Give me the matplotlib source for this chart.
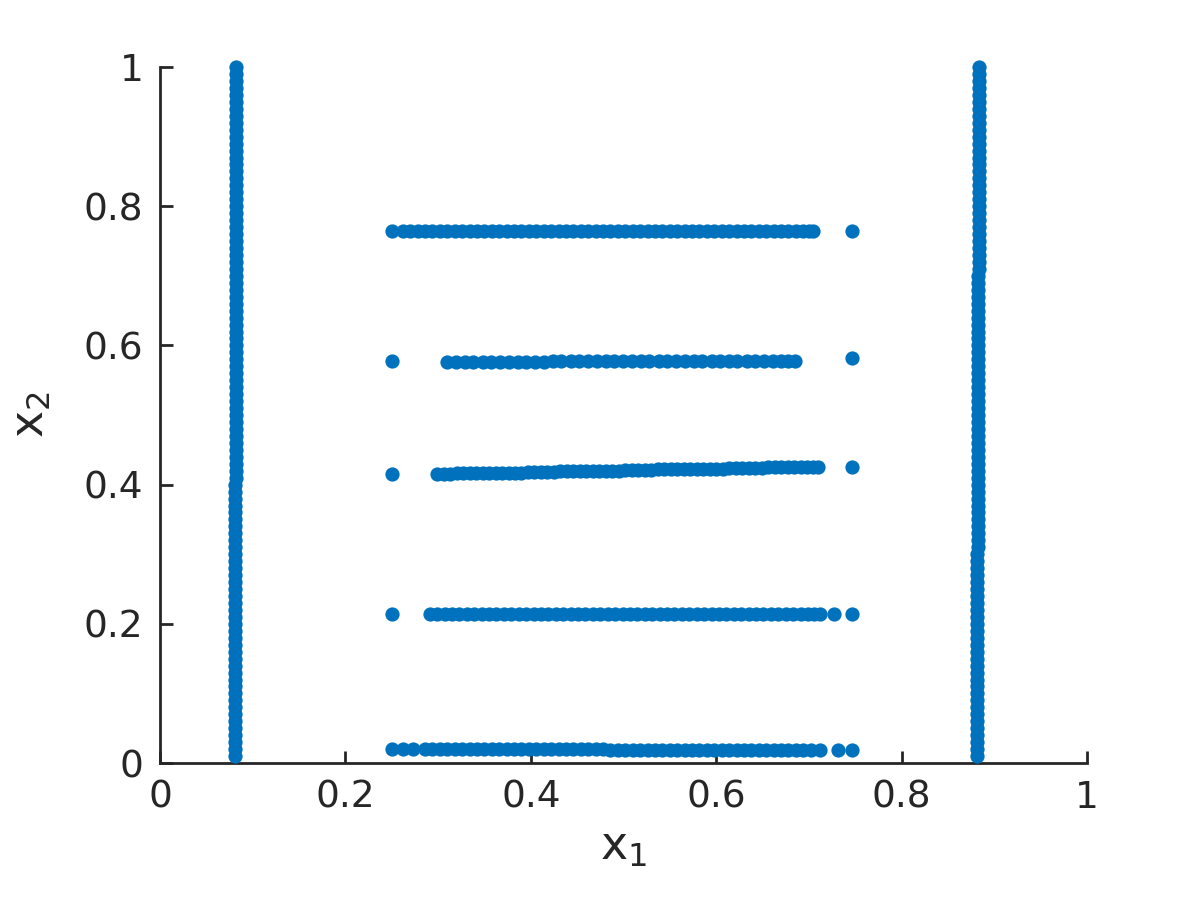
import matplotlib
matplotlib.use("Agg")
import matplotlib.pyplot as plt

# ---- data ----
# left vertical band
left_y = [0.010, 0.020, 0.030, 0.040, 0.050, 0.060, 0.070, 0.080, 0.090, 0.100,
          0.110, 0.120, 0.130, 0.140, 0.150, 0.160, 0.170, 0.180, 0.190, 0.200,
          0.210, 0.220, 0.230, 0.240, 0.250, 0.260, 0.270, 0.280, 0.290, 0.300,
          0.310, 0.320, 0.330, 0.340, 0.350, 0.360, 0.370, 0.380, 0.390, 0.400,
          0.410, 0.420, 0.430, 0.440, 0.450, 0.460, 0.470, 0.480, 0.490, 0.500,
          0.510, 0.520, 0.530, 0.540, 0.550, 0.560, 0.570, 0.580, 0.590, 0.600,
          0.610, 0.620, 0.630, 0.640, 0.650, 0.660, 0.670, 0.680, 0.690, 0.700,
          0.710, 0.720, 0.730, 0.740, 0.750, 0.760, 0.770, 0.780, 0.790, 0.800,
          0.810, 0.820, 0.830, 0.840, 0.850, 0.860, 0.870, 0.880, 0.890, 0.900,
          0.910, 0.920, 0.930, 0.940, 0.950, 0.960, 0.970, 0.980, 0.990, 1.000]
left_x = [0.0805] * 40 + [0.0815] * 60

# right vertical band
right_y = [0.010, 0.020, 0.030, 0.040, 0.050, 0.060, 0.070, 0.080, 0.090, 0.100,
           0.110, 0.120, 0.130, 0.140, 0.150, 0.160, 0.170, 0.180, 0.190, 0.200,
           0.210, 0.220, 0.230, 0.240, 0.250, 0.260, 0.270, 0.280, 0.290, 0.300,
           0.310, 0.320, 0.330, 0.340, 0.350, 0.360, 0.370, 0.380, 0.390, 0.400,
           0.410, 0.420, 0.430, 0.440, 0.450, 0.460, 0.470, 0.480, 0.490, 0.500,
           0.510, 0.520, 0.530, 0.540, 0.550, 0.560, 0.570, 0.580, 0.590, 0.600,
           0.610, 0.620, 0.630, 0.640, 0.650, 0.660, 0.670, 0.680, 0.690, 0.700,
           0.710, 0.720, 0.730, 0.740, 0.750, 0.760, 0.770, 0.780, 0.790, 0.800,
           0.810, 0.820, 0.830, 0.840, 0.850, 0.860, 0.870, 0.880, 0.890, 0.900,
           0.910, 0.920, 0.930, 0.940, 0.950, 0.960, 0.970, 0.980, 0.990, 1.000]
right_x = [0.8815] * 30 + [0.8825] * 40 + [0.8830] * 30

# horizontal band near x2 = 0.764
h1_x = [0.250, 0.262, 0.270, 0.278, 0.286, 0.294, 0.302, 0.310, 0.318, 0.326,
        0.334, 0.342, 0.350, 0.358, 0.366, 0.374, 0.382, 0.390, 0.398, 0.406,
        0.414, 0.422, 0.430, 0.438, 0.446, 0.454, 0.462, 0.470, 0.478, 0.486,
        0.494, 0.502, 0.510, 0.518, 0.526, 0.534, 0.542, 0.550, 0.558, 0.566,
        0.574, 0.582, 0.590, 0.598, 0.606, 0.614, 0.622, 0.630, 0.638, 0.646,
        0.654, 0.662, 0.670, 0.678, 0.686, 0.694, 0.700, 0.705, 0.747]
h1_y = [0.764] * 59

# horizontal band near x2 = 0.578
h2_x = [0.250, 0.310, 0.319, 0.329, 0.338, 0.348, 0.357, 0.367, 0.376, 0.386,
        0.395, 0.405, 0.414, 0.424, 0.433, 0.443, 0.452, 0.462, 0.471, 0.481,
        0.490, 0.500, 0.509, 0.519, 0.528, 0.538, 0.547, 0.557, 0.566, 0.576,
        0.585, 0.595, 0.604, 0.614, 0.623, 0.633, 0.642, 0.652, 0.661, 0.670,
        0.677, 0.685, 0.747]
h2_y = [0.577, 0.576, 0.576, 0.576, 0.576, 0.576, 0.576, 0.576, 0.576, 0.576,
        0.576, 0.576, 0.576, 0.577, 0.577, 0.577, 0.577, 0.577, 0.577, 0.577,
        0.577, 0.577, 0.577, 0.577, 0.577, 0.577, 0.577, 0.577, 0.578, 0.578,
        0.578, 0.578, 0.578, 0.578, 0.578, 0.578, 0.578, 0.578, 0.578, 0.578,
        0.578, 0.578, 0.582]

# horizontal band near x2 = 0.42 (slightly rising)
h3_x = [0.250, 0.299, 0.306, 0.313, 0.320, 0.327, 0.334, 0.341, 0.348, 0.355,
        0.362, 0.369, 0.376, 0.383, 0.390, 0.397, 0.404, 0.411, 0.418, 0.425,
        0.432, 0.439, 0.446, 0.453, 0.460, 0.467, 0.474, 0.481, 0.488, 0.495,
        0.502, 0.509, 0.516, 0.523, 0.530, 0.537, 0.544, 0.551, 0.558, 0.565,
        0.572, 0.579, 0.586, 0.593, 0.600, 0.607, 0.614, 0.621, 0.628, 0.635,
        0.642, 0.649, 0.656, 0.663, 0.670, 0.677, 0.684, 0.691, 0.698, 0.704,
        0.710, 0.747]
h3_y = [0.415, 0.415, 0.415, 0.415, 0.416, 0.416, 0.416, 0.416, 0.416, 0.416,
        0.417, 0.417, 0.417, 0.417, 0.417, 0.418, 0.418, 0.418, 0.418, 0.418,
        0.419, 0.419, 0.419, 0.419, 0.419, 0.420, 0.420, 0.420, 0.420, 0.420,
        0.421, 0.421, 0.421, 0.421, 0.421, 0.422, 0.422, 0.422, 0.422, 0.422,
        0.422, 0.423, 0.423, 0.423, 0.423, 0.423, 0.424, 0.424, 0.424, 0.424,
        0.424, 0.424, 0.425, 0.425, 0.425, 0.425, 0.425, 0.425, 0.425, 0.425,
        0.426, 0.425]

# horizontal band near x2 = 0.214
h4_x = [0.250, 0.291, 0.299, 0.307, 0.315, 0.323, 0.331, 0.339, 0.347, 0.355,
        0.363, 0.371, 0.379, 0.387, 0.395, 0.403, 0.411, 0.419, 0.427, 0.435,
        0.443, 0.451, 0.459, 0.467, 0.475, 0.483, 0.491, 0.499, 0.507, 0.515,
        0.523, 0.531, 0.539, 0.547, 0.555, 0.563, 0.571, 0.579, 0.587, 0.595,
        0.603, 0.611, 0.619, 0.627, 0.635, 0.643, 0.651, 0.659, 0.667, 0.675,
        0.683, 0.691, 0.699, 0.706, 0.712, 0.727, 0.747]
h4_y = [0.214] * 57

# horizontal band near x2 = 0.019
h5_x = [0.250, 0.262, 0.273, 0.286, 0.294, 0.302, 0.310, 0.318, 0.326, 0.334,
        0.342, 0.350, 0.358, 0.366, 0.374, 0.382, 0.390, 0.398, 0.406, 0.414,
        0.422, 0.430, 0.438, 0.446, 0.454, 0.462, 0.470, 0.478, 0.486, 0.494,
        0.502, 0.510, 0.518, 0.526, 0.534, 0.542, 0.550, 0.558, 0.566, 0.574,
        0.582, 0.590, 0.598, 0.606, 0.614, 0.622, 0.630, 0.638, 0.646, 0.654,
        0.662, 0.670, 0.678, 0.686, 0.694, 0.702, 0.712, 0.731, 0.747]
h5_y = [0.020, 0.020, 0.020, 0.020, 0.020, 0.020, 0.020, 0.020, 0.020, 0.020,
        0.020, 0.020, 0.020, 0.020, 0.020, 0.020, 0.020, 0.020, 0.020, 0.020,
        0.020, 0.020, 0.020, 0.020, 0.020, 0.020, 0.020, 0.020, 0.019, 0.019,
        0.019, 0.019, 0.019, 0.018, 0.018, 0.018, 0.018, 0.018, 0.018, 0.018,
        0.018, 0.018, 0.018, 0.018, 0.018, 0.018, 0.018, 0.018, 0.018, 0.018,
        0.018, 0.018, 0.018, 0.018, 0.018, 0.018, 0.018, 0.018, 0.018]

xticks = [0, 0.2, 0.4, 0.6, 0.8, 1]
xtick_labels = ["0", "0.2", "0.4", "0.6", "0.8", "1"]
yticks = [0, 0.2, 0.4, 0.6, 0.8, 1]
ytick_labels = ["0", "0.2", "0.4", "0.6", "0.8", "1"]

# ---- plotting ----
plt.rcParams['font.family'] = ['DejaVu Sans']
plt.rcParams['mathtext.fontset'] = 'dejavusans'
color = '#0072BD'
axis_color = '#262626'

fig = plt.figure(figsize=(12, 9), dpi=100)
ax = fig.add_axes([0.1333, 0.1522, 0.7725, 0.7733])

series = [(left_x, left_y), (right_x, right_y), (h1_x, h1_y), (h2_x, h2_y),
          (h3_x, h3_y), (h4_x, h4_y), (h5_x, h5_y)]
for xs, ys in series:
    ax.scatter(xs, ys, s=105, color=color, linewidths=0, zorder=3, clip_on=False)

ax.set_xlim(0, 1)
ax.set_ylim(0, 1)
ax.set_xticks(xticks)
ax.set_xticklabels(xtick_labels)
ax.set_yticks(yticks)
ax.set_yticklabels(ytick_labels)

for side in ['top', 'right']:
    ax.spines[side].set_visible(False)
for side in ['left', 'bottom']:
    ax.spines[side].set_color(axis_color)
    ax.spines[side].set_linewidth(2.0)

ax.tick_params(direction='in', length=9, width=2.0, colors=axis_color,
               labelsize=27, pad=12)

ax.set_xlabel(r'$\mathregular{x_1}$', fontsize=33, color=axis_color, labelpad=6)
ax.set_ylabel(r'$\mathregular{x_2}$', fontsize=33, color=axis_color, labelpad=22)

fig.savefig('out.png', dpi=100)
